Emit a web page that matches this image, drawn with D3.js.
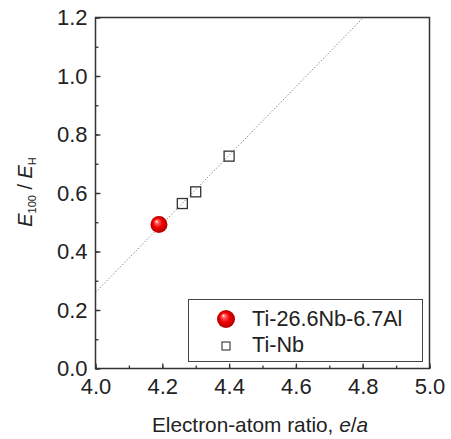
<!DOCTYPE html>
<html><head><meta charset="utf-8">
<script src="https://cdn.jsdelivr.net/npm/d3@7"></script>
<style>body{margin:0;background:#fff}svg{display:block}text{font-family:Arial,"Liberation Sans",sans-serif;fill:#222}</style>
</head><body>
<svg id="c" width="451" height="439"></svg>
<script>
const xTicks = [4.0, 4.2, 4.4, 4.6, 4.8, 5.0];
const yTicks = [0.0, 0.2, 0.4, 0.6, 0.8, 1.0, 1.2];
const alloyX = [4.19];
const alloyY = [0.492];
const tinbX = [4.26, 4.30, 4.40];
const tinbY = [0.564, 0.604, 0.726];
const fitX = [4.0, 4.802];
const fitY = [0.26, 1.2];
const legendLabels = ["Ti-26.6Nb-6.7Al", "Ti-Nb"];

const svg = d3.select("#c");
const L = 95.5, R = 429.5, T = 17.5, B = 368.5;
const x = d3.scaleLinear().domain([4.0, 5.0]).range([L, R]);
const y = d3.scaleLinear().domain([0, 1.2]).range([B, T]);

const defs = svg.append("defs");
const g = defs.append("radialGradient").attr("id","ball").attr("cx","0.5").attr("cy","0.5").attr("r","0.5").attr("fx","0.35").attr("fy","0.3");
g.append("stop").attr("offset","0").attr("stop-color","#fff");
g.append("stop").attr("offset","0.2").attr("stop-color","#ff6060");
g.append("stop").attr("offset","0.55").attr("stop-color","#f00000");
g.append("stop").attr("offset","1").attr("stop-color","#b00000");

const minor = d3.range(0, 11).map(i => 4.0 + i * 0.1);
const minorY = d3.range(0, 13).map(i => i * 0.1);
const FONT = "Arial, 'Liberation Sans', sans-serif";

const xAxis = d3.axisBottom(x).tickValues(minor).tickSizeInner(-3).tickSizeOuter(0).tickFormat("");
svg.append("g").attr("transform", `translate(0,${B})`).call(xAxis).call(a => { a.select(".domain").remove(); a.selectAll("line").attr("stroke","#333").attr("stroke-width",1.3); });
const xAxisMaj = d3.axisBottom(x).tickValues(xTicks).tickSizeInner(-5).tickSizeOuter(0).tickPadding(10).tickFormat(d3.format(".1f"));
svg.append("g").attr("transform", `translate(0,${B})`).call(xAxisMaj).call(a => {
  a.select(".domain").remove();
  a.selectAll("line").attr("stroke","#333").attr("stroke-width",1.3);
  a.selectAll("text").attr("font-size",22).attr("fill","#222").attr("font-family",FONT);
});

const yAxis = d3.axisLeft(y).tickValues(minorY).tickSizeInner(-3).tickSizeOuter(0).tickFormat("");
svg.append("g").attr("transform", `translate(${L},0)`).call(yAxis).call(a => { a.select(".domain").remove(); a.selectAll("line").attr("stroke","#333").attr("stroke-width",1.3); });
const yAxisMaj = d3.axisLeft(y).tickValues(yTicks).tickSizeInner(-5).tickSizeOuter(0).tickPadding(8).tickFormat(d3.format(".1f"));
svg.append("g").attr("transform", `translate(${L},0)`).call(yAxisMaj).call(a => {
  a.select(".domain").remove();
  a.selectAll("line").attr("stroke","#333").attr("stroke-width",1.3);
  a.selectAll("text").attr("font-size",22).attr("fill","#222").attr("font-family",FONT);
});

svg.append("path").datum(fitX.map((d,i)=>[d, fitY[i]]))
  .attr("d", d3.line().x(d=>x(d[0])).y(d=>y(d[1])))
  .attr("fill","none").attr("stroke","#777").attr("stroke-width",1).attr("stroke-dasharray","1.2,2");

svg.append("rect").attr("x",L).attr("y",T).attr("width",R-L).attr("height",B-T)
  .attr("fill","none").attr("stroke","#333").attr("stroke-width",1.5);

svg.selectAll(".sq").data(tinbX.map((d,i)=>[d,tinbY[i]])).enter().append("rect")
  .attr("x", d=>x(d[0])-5).attr("y", d=>y(d[1])-5).attr("width",10).attr("height",10)
  .attr("fill","none").attr("stroke","#333").attr("stroke-width",1.3);

svg.selectAll(".ball").data(alloyX.map((d,i)=>[d,alloyY[i]])).enter().append("circle")
  .attr("cx", d=>x(d[0])).attr("cy", d=>y(d[1])).attr("r",8.5).attr("fill","url(#ball)");

svg.append("rect").attr("x",188.5).attr("y",299.5).attr("width",234).attr("height",62)
  .attr("fill","#fff").attr("stroke","#444").attr("stroke-width",1);
svg.append("circle").attr("cx",226).attr("cy",319).attr("r",9).attr("fill","url(#ball)");
svg.append("rect").attr("x",222).attr("y",342).attr("width",8).attr("height",8).attr("fill","none").attr("stroke","#333").attr("stroke-width",1.1);
svg.append("text").attr("x",252).attr("y",326).attr("font-size",21.6).text(legendLabels[0]);
svg.append("text").attr("x",252).attr("y",352).attr("font-size",21.6).text(legendLabels[1]);

const xt = svg.append("text").attr("x",260).attr("y",432).attr("text-anchor","middle").attr("font-size",20.8);
xt.append("tspan").text("Electron-atom ratio, ");
xt.append("tspan").attr("font-style","italic").text("e");
xt.append("tspan").text("/");
xt.append("tspan").attr("font-style","italic").text("a");

const yt = svg.append("text").attr("transform","translate(32,192) rotate(-90)").attr("text-anchor","middle").attr("font-size",20);
yt.append("tspan").attr("font-style","italic").text("E");
yt.append("tspan").attr("font-size",11).attr("dy",4).text("100");
yt.append("tspan").attr("dy",-4).text(" / ");
yt.append("tspan").attr("font-style","italic").text("E");
yt.append("tspan").attr("font-size",11).attr("dy",4).text("H");
</script>
</body></html>
